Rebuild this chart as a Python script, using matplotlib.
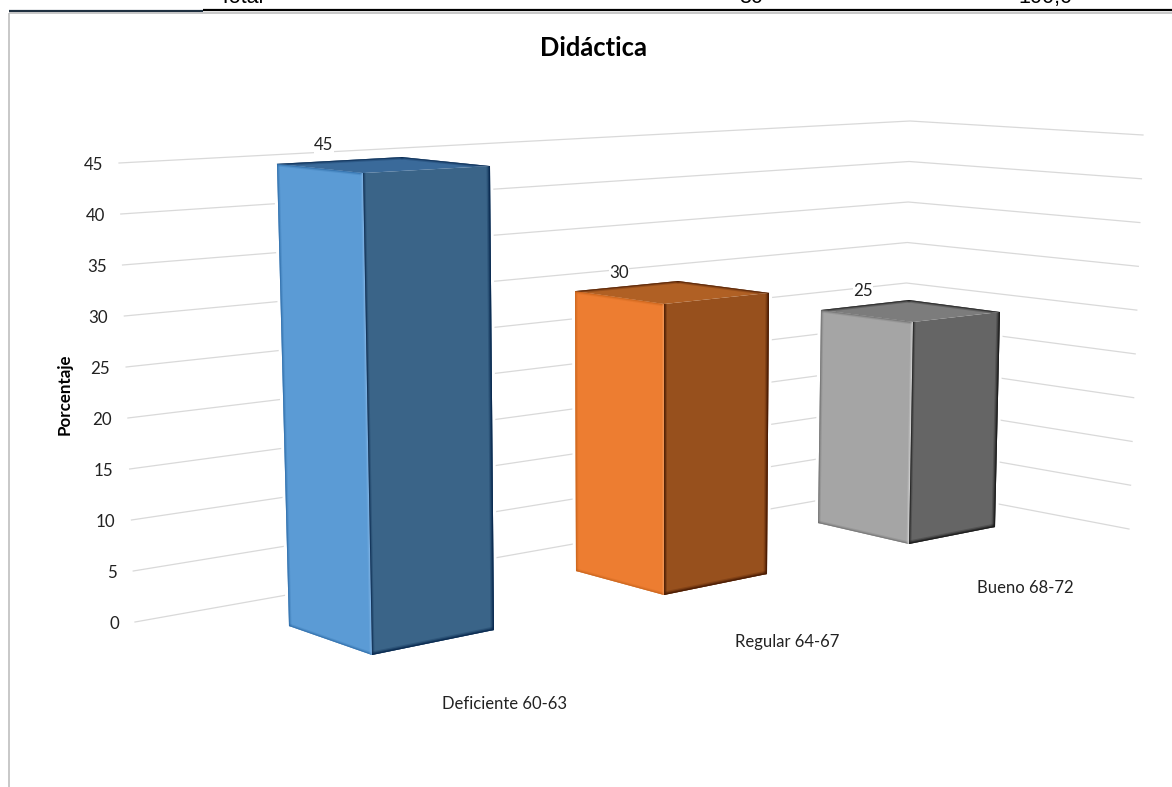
import matplotlib
matplotlib.use("Agg")
import matplotlib.pyplot as plt
import numpy as np
from matplotlib.patches import Polygon

# Chart values
categories = ["Deficiente 60-63", "Regular 64-67", "Bueno 68-72"]
percentages = [45, 30, 25]
axis_ticks = [0, 5, 10, 15, 20, 25, 30, 35, 40, 45]
chart_title = "Didáctica"
axis_title = "Porcentaje"
table_cells = ["Total", "80", "100,0"]

W, H = 1172, 787
fig = plt.figure(figsize=(W / 100, H / 100), dpi=100, facecolor="white")
ax = fig.add_axes([0, 0, 1, 1])
ax.set_xlim(0, W)
ax.set_ylim(H, 0)
ax.axis("off")

SANS = ["Lato", "DejaVu Sans"]
SCALE_MAX = max(axis_ticks)

# Wall geometry of the 3D scene: where value 0 and the top value land.
WALL_LEFT = (np.array([135.0, 622.0]), np.array([119.0, 163.0]))
WALL_CORNER = (np.array([902.0, 485.5]), np.array([910.0, 121.0]))
WALL_RIGHT = (np.array([1129.0, 529.0]), np.array([1143.0, 135.0]))


def wall_point(edge, value):
    low, high = edge
    return low + (high - low) * value / SCALE_MAX


# Each bar: floor corners and the on-screen rise per unit of value for
# the left, front, right and back vertical edges.
BAR_FLOORS = [
    {"left": (289, 626), "front": (372, 655), "right": (494, 630), "back": (408.8, 604.8)},
    {"left": (576, 571), "front": (664, 595), "right": (767, 574), "back": (677.1, 551)},
    {"left": (818, 523), "front": (909, 544), "right": (995, 527), "back": (904.8, 507.5)},
]
BAR_RISES = [
    {"left": (-0.267, -10.27), "front": (-0.2, -10.71), "right": (-0.089, -10.31), "back": (-0.152, -9.95)},
    {"left": (-0.033, -9.33), "front": (0.0, -9.70), "right": (0.067, -9.37), "back": (0.03, -9.0)},
    {"left": (0.12, -8.52), "front": (0.16, -8.88), "right": (0.2, -8.6), "back": (0.17, -8.3)},
]
BAR_STYLES = [
    {"front": "#5B9BD5", "side": "#3A6488", "top": "#3A6A9A", "edge": "#0A2A50", "soft": "#2E6CA8", "glow": "#86B8E8"},
    {"front": "#ED7D31", "side": "#97501D", "top": "#B06024", "edge": "#4A1C04", "soft": "#C8641C", "glow": "#F6A368"},
    {"front": "#A5A5A5", "side": "#656565", "top": "#7C7C7C", "edge": "#1C1C1C", "soft": "#707070", "glow": "#DADADA"},
]
VALUE_LABEL_XY = [(324, 145), (619, 273), (863, 291)]
CATEGORY_LABEL_XY = [(505, 704), (787, 642), (1025, 588)]

# Page furniture left over from the table above the chart frame
ax.plot([9, 203], [11, 11], color="#1F3040", lw=1.6, solid_capstyle="butt")
ax.plot([203, W], [10, 10], color="black", lw=1.6, solid_capstyle="butt")
ax.plot([9, W], [13, 13], color="#BFBFBF", lw=1.2, solid_capstyle="butt")
ax.plot([9, 9], [13, H], color="#BFBFBF", lw=1.2, solid_capstyle="butt")
for cell, x in zip(table_cells, (241, 751, 1045)):
    ax.text(x, 3, cell, family="Liberation Sans", fontsize=15.5, ha="center",
            va="baseline", color="black")

# Gridlines on the two back walls
for tick in axis_ticks:
    a = wall_point(WALL_LEFT, tick)
    b = wall_point(WALL_CORNER, tick)
    c = wall_point(WALL_RIGHT, tick)
    ax.plot([a[0], b[0], c[0]], [a[1], b[1], c[1]], color="#D9D9D9", lw=0.9,
            solid_joinstyle="round", zorder=1)
    ax.text(a[0] - 16, a[1] + 2, str(tick), family=SANS, fontsize=12.2, ha="right",
            va="center", color="#222222", zorder=6)


def soft_line(p, q, color, widths, clip):
    for lw, alpha in widths:
        line, = ax.plot([p[0], q[0]], [p[1], q[1]], color=color, lw=lw, alpha=alpha,
                        solid_capstyle="round", zorder=4)
        line.set_clip_path(clip)


STRONG = [(5.0, 0.25), (3.2, 0.5), (1.6, 0.95)]
LIGHT = [(3.6, 0.25), (2.0, 0.45), (1.0, 0.6)]

for floor, rise, style, value in zip(BAR_FLOORS, BAR_RISES, BAR_STYLES, percentages):
    base = {k: np.array(v, dtype=float) for k, v in floor.items()}
    top = {k: base[k] + value * np.array(rise[k]) for k in base}

    front = [top["left"], top["front"], base["front"], base["left"]]
    side = [top["front"], top["right"], base["right"], base["front"]]
    lid = [top["left"], top["back"], top["right"], top["front"]]
    outline = [top["left"], top["back"], top["right"], base["right"], base["front"], base["left"]]

    # White halo keeps the gridlines from touching the bar
    ax.add_patch(Polygon(outline, closed=True, fc="white", ec="white", lw=4.5,
                         joinstyle="round", zorder=2))
    front_patch = Polygon(front, closed=True, fc=style["front"], ec="none", zorder=3)
    side_patch = Polygon(side, closed=True, fc=style["side"], ec="none", zorder=3)
    lid_patch = Polygon(lid, closed=True, fc=style["top"], ec="none", zorder=3)
    for patch in (front_patch, side_patch, lid_patch):
        ax.add_patch(patch)

    # Bevelled edges, kept inside the face they belong to
    soft_line(top["left"], base["left"], style["soft"], LIGHT, front_patch)
    soft_line(top["left"], top["front"], style["soft"], LIGHT, front_patch)
    soft_line(base["left"], base["front"], style["soft"], LIGHT, front_patch)
    soft_line(top["front"], base["front"], style["glow"], LIGHT, front_patch)

    soft_line(top["right"], base["right"], style["edge"], STRONG, side_patch)
    soft_line(base["front"], base["right"], style["edge"], STRONG, side_patch)
    soft_line(top["front"], base["front"], style["edge"], LIGHT, side_patch)

    soft_line(top["left"], top["back"], style["edge"], LIGHT, lid_patch)
    soft_line(top["back"], top["right"], style["edge"], LIGHT, lid_patch)

for value, (x, y) in zip(percentages, VALUE_LABEL_XY):
    ax.text(x, y, str(value), family=SANS, fontsize=12.2, ha="center", va="center",
            color="#222222", zorder=6,
            bbox=dict(fc="white", ec="none", pad=0.4))

for name, (x, y) in zip(categories, CATEGORY_LABEL_XY):
    ax.text(x, y, name, family=SANS, fontsize=12.0, ha="center", va="center",
            color="#222222", zorder=6)

ax.text(594, 48, chart_title, family=SANS, fontsize=18.4, fontweight="bold",
        ha="center", va="center", color="black", zorder=6)
ax.text(65, 394, axis_title, family=SANS, fontsize=12.2, fontweight="bold", rotation=90,
        ha="center", va="center", color="black", zorder=6)

fig.savefig("out.png", dpi=100, facecolor="white")
